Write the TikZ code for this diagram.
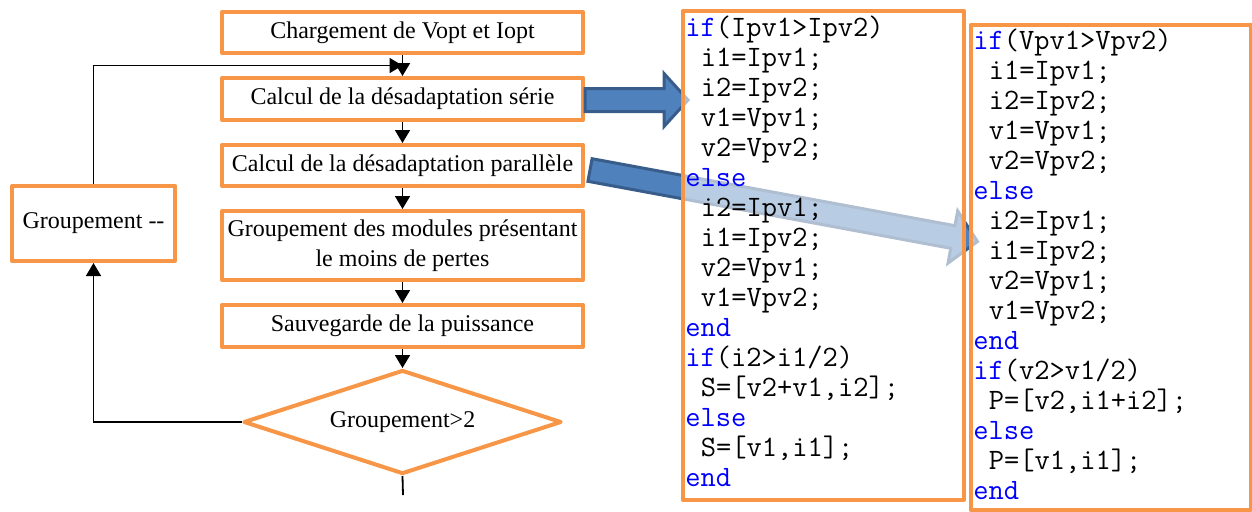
\documentclass[tikz,border=0pt]{standalone}
\usepackage{fontspec}
\setmainfont{Liberation Serif}
\usetikzlibrary{arrows.meta,positioning,shapes.geometric,calc}

\definecolor{boxorange}{HTML}{F79646}
\definecolor{arrowblue}{HTML}{4F81BD}
\definecolor{arrowedge}{HTML}{385D8A}
\definecolor{kwblue}{HTML}{0000FF}

\newcommand{\kw}[1]{\textcolor{kwblue}{#1}}
\newcommand{\indt}{\hspace*{0.525em}}

\tikzset{
  stepbox/.style={draw=boxorange, line width=2pt, fill=white, rectangle,
    line join=round, minimum width=180.5pt, minimum height=20.5pt,
    align=center, inner sep=1pt},
  decision/.style={draw=boxorange, line width=2pt, fill=white, diamond, aspect=3.1,
    line join=round, minimum width=159pt, minimum height=52pt, inner sep=0pt},
  flow/.style={-{Triangle[length=6.5pt,width=7.5pt]}, line width=0.9pt},
  bluearrow/.style={fill=arrowblue, draw=arrowedge, line width=1.5pt, line join=miter},
  codebox/.style={draw=boxorange, line width=2pt, fill=white, fill opacity=0.6,
    line join=round},
  codeline/.style={anchor=base west, inner sep=0pt,
    font=\fontsize{14.8}{15}\selectfont\ttfamily},
}

\begin{document}
\begin{tikzpicture}[x=0.5pt, y=-0.5pt, node distance=10.5pt,
    every node/.append style={font=\fontsize{12}{15}\selectfont}]
  \useasboundingbox (0,0) rectangle (1252,511);

  % flowchart
  \node[stepbox] (load) at (402.5,32.5) {Chargement de Vopt et Iopt};
  \node[stepbox, minimum height=21pt, below=of load] (serie) {Calcul de la désadaptation série};
  \node[stepbox, below=of serie] (para) {Calcul de la désadaptation parallèle};
  \node[stepbox, minimum height=34.5pt, below=of para] (group) {Groupement des modules présentant\\le moins de pertes};
  \node[stepbox, minimum height=21pt, below=of group] (save) {Sauvegarde de la puissance};
  \node[decision, below=9.5pt of save] (test) {Groupement>2};
  \node[stepbox, minimum width=81.5pt, minimum height=37.5pt] (dec) at (93.5,223.5) {Groupement {-}{-}};

  \coordinate (join) at ($(load.south)!0.5!(serie.north)$);
  \coordinate (out) at (403,495);

  \draw[flow] (load) -- (serie);
  \draw[flow] (serie) -- (para);
  \draw[flow] (para) -- (group);
  \draw[flow] (group) -- (save);
  \draw[flow] (save) -- (test);
  \draw[line width=0.9pt] (test.south) -- (out);
  \draw[flow] (test.west) -| (dec.south);
  \draw[flow] (dec.north) |- (join);

  % block arrows towards the code
  \coordinate (s1) at (585,100);
  \coordinate (s2) at (590,170);
  \begin{scope}[shift={(s1)}]
    \draw[bluearrow] (0,-11.5) -- (79,-11.5) -- (79,-26.5) -- (103,0)
      -- (79,26.5) -- (79,11.5) -- (0,11.5) -- cycle;
  \end{scope}
  \begin{scope}[shift={(s2)}, rotate=-10.46]
    \draw[bluearrow] (0,-11.5) -- (369,-11.5) -- (369,-26.5) -- (394,0)
      -- (369,26.5) -- (369,11.5) -- (0,11.5) -- cycle;
  \end{scope}

  % code boxes
  \draw[codebox] (682.5,11) rectangle (964,499.5);
  \draw[codebox] (970.5,25) rectangle (1250.5,509.5);

  \foreach \ln [count=\i from 0] in {
      {\kw{if}(Ipv1>Ipv2)}, {\indt i1=Ipv1;}, {\indt i2=Ipv2;},
      {\indt v1=Vpv1;}, {\indt v2=Vpv2;}, {\kw{else}},
      {\indt i2=Ipv1;}, {\indt i1=Ipv2;}, {\indt v2=Vpv1;},
      {\indt v1=Vpv2;}, {\kw{end}}, {\kw{if}(i2>i1/2)},
      {\indt S=[v2+v1,i2];}, {\kw{else}}, {\indt S=[v1,i1];}, {\kw{end}}}
    \node[codeline] (serieline\i) at (685,{36.5+30*\i}) {\ln};

  \foreach \ln [count=\i from 0] in {
      {\kw{if}(Vpv1>Vpv2)}, {\indt i1=Ipv1;}, {\indt i2=Ipv2;},
      {\indt v1=Vpv1;}, {\indt v2=Vpv2;}, {\kw{else}},
      {\indt i2=Ipv1;}, {\indt i1=Ipv2;}, {\indt v2=Vpv1;},
      {\indt v1=Vpv2;}, {\kw{end}}, {\kw{if}(v2>v1/2)},
      {\indt P=[v2,i1+i2];}, {\kw{else}}, {\indt P=[v1,i1];}, {\kw{end}}}
    \node[codeline] (paraline\i) at (973,{49.5+30*\i}) {\ln};
\end{tikzpicture}
\end{document}
